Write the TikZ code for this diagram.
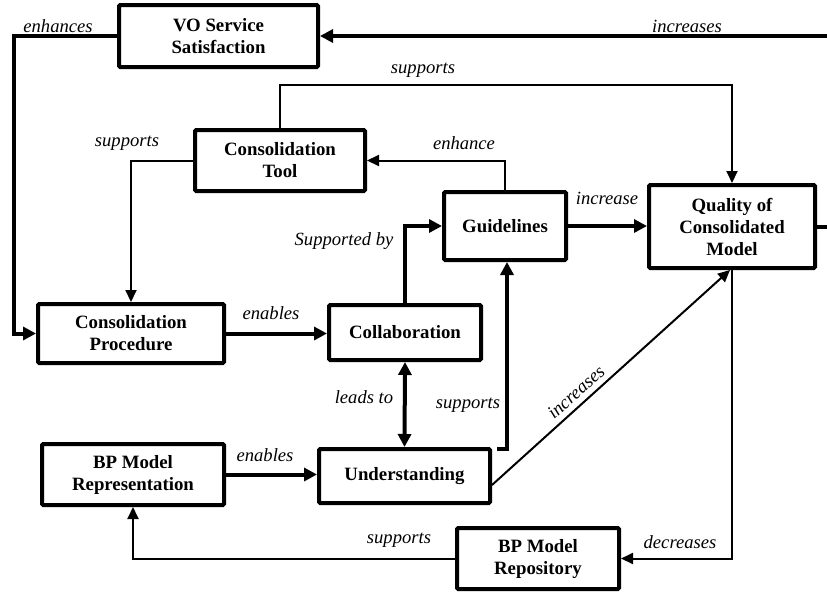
\documentclass[tikz,border=0pt]{standalone}
\usepackage{fontspec}
\setmainfont{Liberation Serif}
\usetikzlibrary{arrows.meta}
\tikzset{
  box/.style={draw, line width=4pt, rounded corners=1.2pt, align=center, inner sep=2pt,
    font=\fontsize{18.8}{22}\selectfont\bfseries},
  lab/.style={inner sep=0pt, font=\fontsize{18.6}{22}\selectfont\itshape},
  thickarr/.style={line width=4pt, -{Triangle[length=13pt,width=13pt]}},
  thickline/.style={line width=4pt},
  thinarr/.style={line width=2pt, -{Triangle[length=12pt,width=11pt]}},
}
\begin{document}
\begin{tikzpicture}[x=1pt,y=-1pt]
\useasboundingbox (0,0) rectangle (827,592);
\clip (0,0) rectangle (827,592);
\fill[white] (0,0) rectangle (827,592);

% boxes
\node[box, minimum width=199pt, minimum height=62pt] (vo) at (218.5,36) {VO Service\\Satisfaction};
\node[box, minimum width=170pt, minimum height=61pt] (tool) at (280,160.5) {Consolidation\\Tool};
\node[box, minimum width=186pt, minimum height=59pt] (proc) at (131,333.5) {Consolidation\\Procedure};
\node[box, minimum width=152pt, minimum height=55pt] (collab) at (405,332.5) {Collaboration};
\node[box, minimum width=122pt, minimum height=68pt] (guide) at (505,226) {Guidelines};
\node[box, minimum width=166pt, minimum height=83pt] (qual) at (732,226.5) {Quality of\\Consolidated\\Model};
\node[box, minimum width=182pt, minimum height=61pt] (rep) at (133,474.5) {BP Model\\Representation};
\node[box, minimum width=171pt, minimum height=54pt] (under) at (404.5,476) {Understanding};
\node[box, minimum width=162pt, minimum height=61pt] (repo) at (538,558.5) {BP Model\\Repository};

% connectors
\draw[thickarr, rounded corners=0pt] (vo.west) -- ++(-103,0) |- (proc.west);
\draw[thickarr] (qual.east) -- ++(40,0) |- (vo.east);
\draw[thinarr] (tool.north) -- ++(0,-43) -| (qual.north);
\draw[thinarr] (tool.west) -| (proc.north);
\draw[thinarr] (guide.north) |- (tool.east);
\draw[thickarr] (guide.east) -- (guide.east -| qual.west);
\draw[thickarr] (proc.east) -- (proc.east -| collab.west);
\draw[thickarr] (collab.north) |- (guide.west);
\draw[line width=4pt, {Triangle[length=13pt,width=13pt]}-{Triangle[length=13pt,width=13pt]}] (collab.south) -- (under.north);
\coordinate (hook) at ([xshift=5pt,yshift=-2pt]under.north east);
\draw[thickarr] (hook) -| ([xshift=2pt]guide.south);
\draw[thinarr] ([yshift=-9pt]under.east) -- ([xshift=-2pt]qual.south);
\draw[thinarr] (qual.south) |- (repo.east);
\draw[thinarr] (repo.west) -| (rep.south);
\draw[thickarr] (rep.east) -- (rep.east -| under.west);

% labels
\node[lab] (l1) at (58,26) {enhances};
\node[lab] (l2) at (687,26) {increases};
\node[lab] (l3) at (423,70) {supports};
\node[lab] (l4) at (127,143) {supports};
\node[lab] (l5) at (464,143) {enhance};
\node[lab] (l6) at (607,198) {increase};
\node[lab] (l7) at (344,241) {Supported by};
\node[lab] (l8) at (271,313) {enables};
\node[lab] (l9) at (364,397) {leads to};
\node[lab] (l10) at (468,405) {supports};
\node[lab] (l11) at (265,455) {enables};
\node[lab] (l12) at (399,540) {supports};
\node[lab] (l13) at (680,542) {decreases};
\node[lab, rotate=42] (l14) at (576,392) {increases};
\end{tikzpicture}
\end{document}
